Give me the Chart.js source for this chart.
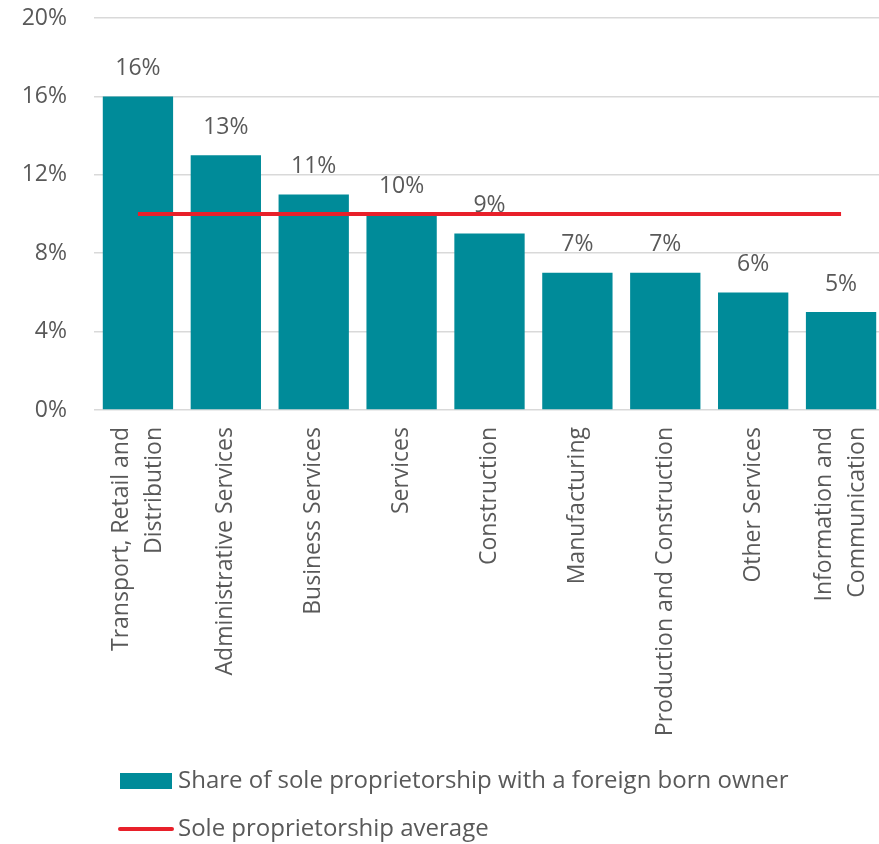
<!DOCTYPE html>
<html>
<head>
<meta charset="utf-8">
<script src="https://cdn.jsdelivr.net/npm/chart.js@4"></script>
<style>
html, body { margin: 0; padding: 0; overflow: hidden; background: #fff; }
#wrap { position: relative; width: 885px; height: 844px; }
</style>
</head>
<body>
<div id="wrap"><canvas id="c" width="885" height="844"></canvas></div>
<script>
const categories = [
  ["Transport, Retail and", "Distribution"],
  "Administrative Services",
  "Business Services",
  "Services",
  "Construction",
  "Manufacturing",
  "Production and Construction",
  "Other Services",
  ["Information and", "Communication"]
];
const shareForeignBorn = [16, 13, 11, 10, 9, 7, 7, 6, 5];
const averageLine = [10, 10, 10, 10, 10, 10, 10, 10, 10];
const seriesNames = ["Share of sole proprietorship with a foreign born owner", "Sole proprietorship average"];
const yTicks = [0, 4, 8, 12, 16, 20];

const FONT = "'Open Sans', sans-serif";
const FS = 23;
const LEGEND_FS = 24;
const GREY = '#595959';
const TEAL = '#008b99';
const RED = '#e8202a';
const X_LINE_H = 1.42;

const labelPlugin = {
  id: 'valueLabels',
  afterDatasetsDraw(chart) {
    const ctx = chart.ctx;
    const meta = chart.getDatasetMeta(1);
    ctx.save();
    ctx.font = FS + 'px ' + FONT;
    ctx.fillStyle = GREY;
    ctx.textAlign = 'center';
    ctx.textBaseline = 'middle';
    meta.data.forEach((bar, i) => {
      ctx.fillText(shareForeignBorn[i] + '%', bar.x, bar.y - 28);
    });
    ctx.restore();
  }
};

// center multi-line rotated category labels on their tick
const centerLabelsPlugin = {
  id: 'centerLabels',
  beforeDraw(chart) {
    const scale = chart.scales.x;
    const items = scale.getLabelItems();
    const lh = FS * X_LINE_H;
    items.forEach(item => {
      if (Array.isArray(item.label) && item.label.length > 1 && !item._shifted) {
        item.options.translation[0] -= lh * (item.label.length - 1) / 2;
        item._shifted = true;
      }
    });
  }
};

const legendPlugin = {
  id: 'customLegend',
  afterDraw(chart) {
    const ctx = chart.ctx;
    ctx.save();
    ctx.font = LEGEND_FS + 'px ' + FONT;
    ctx.textBaseline = 'middle';
    ctx.textAlign = 'left';
    ctx.fillStyle = TEAL;
    ctx.fillRect(120, 773, 52, 16);
    ctx.fillStyle = GREY;
    ctx.fillText(seriesNames[0], 178, 781);
    ctx.strokeStyle = RED;
    ctx.lineWidth = 4;
    ctx.lineCap = 'round';
    ctx.beginPath();
    ctx.moveTo(120, 829);
    ctx.lineTo(172, 829);
    ctx.stroke();
    ctx.fillText(seriesNames[1], 178, 829);
    ctx.restore();
  }
};

new Chart(document.getElementById('c'), {
  data: {
    labels: categories,
    datasets: [
      {
        type: 'line',
        label: seriesNames[1],
        data: averageLine,
        borderColor: RED,
        backgroundColor: RED,
        borderWidth: 4,
        pointRadius: 0,
        tension: 0,
        order: 0
      },
      {
        type: 'bar',
        label: seriesNames[0],
        data: shareForeignBorn,
        backgroundColor: TEAL,
        borderWidth: 0,
        categoryPercentage: 1,
        barPercentage: 0.8,
        order: 1
      }
    ]
  },
  options: {
    responsive: false,
    animation: false,
    layout: { padding: { top: 18, bottom: 104, left: 0, right: 0 } },
    plugins: {
      legend: { display: false },
      tooltip: { enabled: false }
    },
    scales: {
      x: {
        grid: { display: false, drawTicks: false },
        border: { display: false },
        ticks: {
          autoSkip: false,
          minRotation: 90,
          maxRotation: 90,
          padding: 17,
          color: GREY,
          font: { family: FONT, size: FS, lineHeight: X_LINE_H }
        },
        afterFit(scale) {
          scale.height = 330;
          scale.paddingLeft = 0;
          scale.paddingRight = 0;
        }
      },
      y: {
        min: 0,
        max: 20,
        afterBuildTicks(scale) { scale.ticks = yTicks.map(v => ({ value: v })); },
        grid: { color: '#d9d9d9', lineWidth: 1.5, drawTicks: false },
        border: { display: false },
        ticks: {
          padding: 27,
          color: GREY,
          font: { family: FONT, size: FS },
          callback: v => v + '%'
        },
        afterFit(scale) {
          scale.width = 94;
          scale.paddingTop = 0;
          scale.paddingBottom = 0;
        }
      }
    }
  },
  plugins: [labelPlugin, centerLabelsPlugin, legendPlugin]
});
</script>
</body>
</html>
